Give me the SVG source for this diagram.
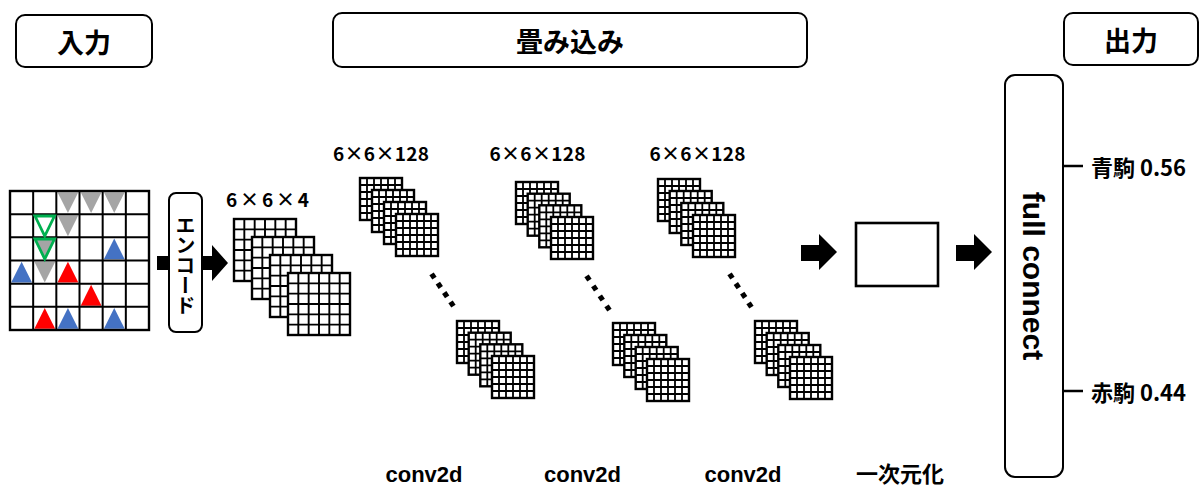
<svg xmlns="http://www.w3.org/2000/svg" xmlns:xlink="http://www.w3.org/1999/xlink" width="1200" height="488" viewBox="0 0 1200 488">
  <style>
    .box { fill: #fff; stroke: #000; stroke-width: 2; }
    .jp { font-family: "Noto Sans CJK JP", "Noto Sans", sans-serif; font-weight: 700; fill: #000; }
    .lat { font-family: "Liberation Sans", Arial, sans-serif; font-weight: 700; fill: #000; }
    .head { font-size: 27px; text-anchor: middle; dominant-baseline: central; }
    .dim { font-size: 19px; text-anchor: middle; }
    .cap { font-size: 22px; text-anchor: middle; }
    .gray { fill: #A5A5A5; }
    .blue { fill: #4472C4; }
    .red { fill: #FF0000; }
    .ring { fill: none; stroke: #00B050; stroke-width: 2.8; stroke-linejoin: miter; }
    .ring-g { fill: #A5A5A5; stroke: #00B050; stroke-width: 2.8; }
    .arrow { fill: #000; }
    .tick { stroke: #000; stroke-width: 2.5; fill: none; }
  </style>
  <defs>
    <!-- 6x6 feature map, small -->
    <g id="gs">
      <rect width="42" height="42" fill="#fff"/>
      <path d="M7 0V42M14 0V42M21 0V42M28 0V42M35 0V42M0 7H42M0 14H42M0 21H42M0 28H42M0 35H42" stroke="#000" stroke-width="1.8"/>
      <rect width="42" height="42" fill="none" stroke="#000" stroke-width="2.4"/>
    </g>
    <!-- 6x6 input plane, large -->
    <g id="gb">
      <rect width="62" height="62" fill="#fff"/>
      <path d="M10.33 0V62M20.67 0V62M31 0V62M41.33 0V62M51.67 0V62M0 10.33H62M0 20.67H62M0 31H62M0 41.33H62M0 51.67H62" stroke="#000" stroke-width="1.9"/>
      <rect width="62" height="62" fill="none" stroke="#000" stroke-width="2.4"/>
    </g>
    <polygon id="down" points="1.2,1.2 22,1.2 11.6,22"/>
    <polygon id="up" points="11.6,1.2 22,22 1.2,22"/>
    <rect id="dot" x="-2.6" y="-2.6" width="5.2" height="5.2" transform="rotate(56)"/>
  </defs>

  <!-- section headers -->
  <g id="hdr-input">
    <rect class="box" x="16" y="15" width="136" height="52" rx="9"/>
    <text class="jp head" x="84" y="41">入力</text>
  </g>
  <g id="hdr-conv">
    <rect class="box" x="333" y="13" width="474" height="54" rx="9"/>
    <text class="jp head" x="570" y="40">畳み込み</text>
  </g>
  <g id="hdr-output">
    <rect class="box" x="1064" y="13" width="134" height="52" rx="9"/>
    <text class="jp head" x="1131" y="39">出力</text>
  </g>

  <!-- board -->
  <g id="board" transform="translate(10,191)">
    <rect width="139" height="139" fill="#fff"/>
    <use href="#down" class="gray" x="46.33" y="0"/>
    <use href="#down" class="gray" x="69.5" y="0"/>
    <use href="#down" class="gray" x="92.67" y="0"/>
    <use href="#down" class="gray" x="46.33" y="23.17"/>
    <use href="#up" class="blue" x="92.67" y="46.33"/>
    <use href="#up" class="blue" x="0" y="69.5"/>
    <use href="#down" class="gray" x="23.17" y="69.5"/>
    <use href="#up" class="red" x="46.33" y="69.5"/>
    <use href="#up" class="red" x="69.5" y="92.67"/>
    <use href="#up" class="red" x="23.17" y="115.83"/>
    <use href="#up" class="blue" x="46.33" y="115.83"/>
    <use href="#up" class="blue" x="92.67" y="115.83"/>
    <path d="M23.17 0V139M46.33 0V139M69.5 0V139M92.67 0V139M115.83 0V139M0 23.17H139M0 46.33H139M0 69.5H139M0 92.67H139M0 115.83H139" stroke="#000" stroke-width="2"/>
    <rect width="139" height="139" fill="none" stroke="#000" stroke-width="2.4"/>
    <!-- highlighted move -->
    <polygon class="ring" points="25,25 44.5,25 34.75,45"/>
    <polygon class="ring-g" points="25,48 44.5,48 34.75,68"/>
  </g>

  <!-- connectors -->
  <g id="connectors">
    <polygon class="arrow" points="157,256 212,256 212,245 228,263 212,281 212,270 157,270"/>
    <polygon class="arrow" points="801,245 819,245 819,234 837,252 819,270 819,261 801,261"/>
    <polygon class="arrow" points="956,245 974,245 974,234 992,252 974,270 974,261 956,261"/>
    <path class="tick" d="M1063 166H1083M1063 391H1083"/>
  </g>

  <!-- encoder -->
  <g id="encode">
    <rect class="box" x="169" y="193" width="33" height="139" rx="7"/>
    <text class="jp" x="185.5" y="265" font-size="20" text-anchor="middle" writing-mode="vertical-rl">エンコード</text>
  </g>

  <!-- 6x6x4 input tensor -->
  <g id="tensor-in">
    <text class="jp dim" x="267.5" y="207" textLength="83" lengthAdjust="spacing">6×6×4</text>
    <use href="#gb" x="234" y="219"/>
    <use href="#gb" x="252" y="237"/>
    <use href="#gb" x="270" y="255"/>
    <use href="#gb" x="288" y="273"/>
  </g>

  <!-- conv layer 1 -->
  <g id="conv1">
    <text class="jp dim" x="381" y="161" textLength="96" lengthAdjust="spacing">6×6×128</text>
    <use href="#gs" x="360" y="178"/>
    <use href="#gs" x="372" y="190"/>
    <use href="#gs" x="384" y="202"/>
    <use href="#gs" x="396" y="214"/>
    <use href="#dot" x="433" y="276"/>
    <use href="#dot" x="439.3" y="285.3"/>
    <use href="#dot" x="445.7" y="294.7"/>
    <use href="#dot" x="452" y="304"/>
    <use href="#gs" x="457" y="321"/>
    <use href="#gs" x="468.7" y="332.7"/>
    <use href="#gs" x="480.3" y="344.3"/>
    <use href="#gs" x="492" y="356"/>
    <text class="lat cap" x="424" y="482">conv2d</text>
  </g>

  <!-- conv layer 2 -->
  <g id="conv2">
    <text class="jp dim" x="537.5" y="161" textLength="96" lengthAdjust="spacing">6×6×128</text>
    <use href="#gs" x="516" y="182"/>
    <use href="#gs" x="527.7" y="193.7"/>
    <use href="#gs" x="539.3" y="205.3"/>
    <use href="#gs" x="551" y="217"/>
    <use href="#dot" x="588" y="278"/>
    <use href="#dot" x="594.7" y="288"/>
    <use href="#dot" x="601.3" y="298"/>
    <use href="#dot" x="608" y="308"/>
    <use href="#gs" x="613" y="323"/>
    <use href="#gs" x="624.3" y="335"/>
    <use href="#gs" x="635.7" y="347"/>
    <use href="#gs" x="647" y="359"/>
    <text class="lat cap" x="582.5" y="482">conv2d</text>
  </g>

  <!-- conv layer 3 -->
  <g id="conv3">
    <text class="jp dim" x="697.5" y="161" textLength="96" lengthAdjust="spacing">6×6×128</text>
    <use href="#gs" x="658" y="179"/>
    <use href="#gs" x="669.7" y="191"/>
    <use href="#gs" x="681.3" y="203"/>
    <use href="#gs" x="693" y="215"/>
    <use href="#dot" x="731" y="276"/>
    <use href="#dot" x="737.3" y="285.7"/>
    <use href="#dot" x="743.7" y="295.3"/>
    <use href="#dot" x="750" y="305"/>
    <use href="#gs" x="755" y="321"/>
    <use href="#gs" x="766.7" y="333"/>
    <use href="#gs" x="778.3" y="345"/>
    <use href="#gs" x="790" y="357"/>
    <text class="lat cap" x="743" y="482">conv2d</text>
  </g>

  <!-- flatten -->
  <g id="flatten">
    <rect x="856" y="223" width="82" height="63" fill="#fff" stroke="#000" stroke-width="2.6"/>
    <text class="jp cap" x="900" y="482">一次元化</text>
  </g>

  <!-- dense layer -->
  <g id="dense">
    <rect class="box" x="1005" y="75" width="58" height="402" rx="10"/>
    <text class="lat" transform="translate(1023,276) rotate(90)" font-size="30" text-anchor="middle">full connect</text>
  </g>

  <!-- outputs -->
  <g id="out-blue">
    <text class="jp" x="1091" y="166" font-size="22" dominant-baseline="central">青駒 0.56</text>
  </g>
  <g id="out-red">
    <text class="jp" x="1091" y="391" font-size="22" dominant-baseline="central">赤駒 0.44</text>
  </g>
</svg>
